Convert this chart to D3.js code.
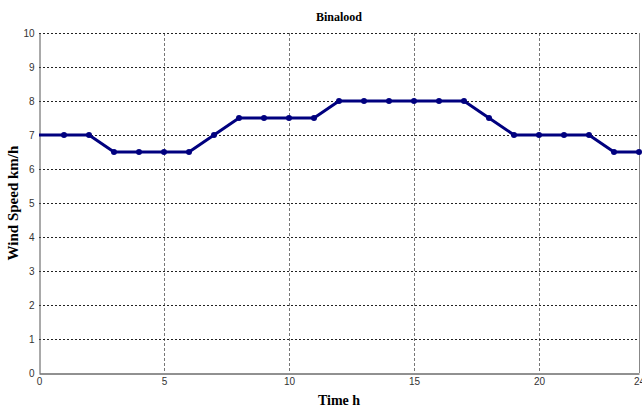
<!DOCTYPE html>
<html>
<head>
<meta charset="utf-8">
<script src="https://cdn.jsdelivr.net/npm/d3@7"></script>
<style>
body { margin: 0; background: white; }
</style>
</head>
<body>
<svg></svg>
<script>
var w = 642
var h = 410

// data
var hours = [0,1,2,3,4,5,6,7,8,9,10,11,12,13,14,15,16,17,18,19,20,21,22,23,24]
var speed = [7,7,7,6.5,6.5,6.5,6.5,7,7.5,7.5,7.5,7.5,8,8,8,8,8,8,7.5,7,7,7,7,6.5,6.5]
var xTicks = [0,5,10,15,20,24]
var yTicks = [0,1,2,3,4,5,6,7,8,9,10]

var plotLeft = 39, plotRight = 639, plotTop = 33, plotBottom = 373

var svg = d3.select("svg")
	.attr("width", w)
	.attr("height", h)

var x = d3.scaleLinear().domain([0,24]).range([plotLeft,plotRight])
var y = d3.scaleLinear().domain([0,10]).range([plotBottom,plotTop])

var data = hours.map(function(d,i){ return {h: d, v: speed[i]} })

// grid
svg.append("g").selectAll("line")
	.data(xTicks.filter(function(d){ return d > 0 && d < 24 }))
	.join("line")
	.attr("x1", function(d){ return x(d) + 0.5 })
	.attr("x2", function(d){ return x(d) + 0.5 })
	.attr("y1", plotTop)
	.attr("y2", plotBottom)
	.attr("stroke", "#777")
	.attr("stroke-width", 1)
	.attr("stroke-dasharray", "3,2")

svg.append("g").selectAll("line")
	.data(yTicks.filter(function(d){ return d > 0 }))
	.join("line")
	.attr("x1", plotLeft)
	.attr("x2", plotRight)
	.attr("y1", function(d){ return y(d) + 0.5 })
	.attr("y2", function(d){ return y(d) + 0.5 })
	.attr("stroke", "#222")
	.attr("stroke-width", 1)
	.attr("stroke-dasharray", "2,2")

// right border
svg.append("line")
	.attr("x1", plotRight + 0.5).attr("x2", plotRight + 0.5)
	.attr("y1", plotTop).attr("y2", plotBottom)
	.attr("stroke", "#888")

// axes
var xAxis = d3.axisBottom(x).tickValues(xTicks).tickSize(0).tickPadding(4)
var gx = svg.append("g")
	.attr("transform", "translate(0," + (plotBottom + 0.5) + ")")
	.call(xAxis)
gx.select(".domain").attr("stroke", "#222")
gx.selectAll("text")
	.attr("font-family", "Liberation Sans, Arial, sans-serif")
	.attr("font-size", 10)
	.attr("fill", "#333")

var yAxis = d3.axisLeft(y).tickValues(yTicks).tickSize(0).tickPadding(5)
var gy = svg.append("g")
	.attr("transform", "translate(" + (plotLeft + 0.5) + ",0)")
	.call(yAxis)
gy.select(".domain").attr("stroke", "#555")
gy.selectAll("text")
	.attr("font-family", "Liberation Sans, Arial, sans-serif")
	.attr("font-size", 10)
	.attr("fill", "#333")

// line
var line = d3.line()
	.x(function(d){ return x(d.h) })
	.y(function(d){ return y(d.v) })

svg.append("path")
	.datum(data)
	.attr("d", line)
	.attr("fill", "none")
	.attr("stroke", "#00007f")
	.attr("stroke-width", 3)
	.attr("stroke-linejoin", "round")

svg.append("g").selectAll("circle")
	.data(data.filter(function(d){ return d.h > 0 }))
	.join("circle")
	.attr("cx", function(d){ return x(d.h) })
	.attr("cy", function(d){ return y(d.v) })
	.attr("r", 3)
	.attr("fill", "#00007f")

// labels
svg.append("text")
	.attr("x", (plotLeft + plotRight) / 2)
	.attr("y", 21)
	.attr("text-anchor", "middle")
	.attr("font-family", "Liberation Serif, Times New Roman, serif")
	.attr("font-weight", "bold")
	.attr("font-size", 12)
	.text("Binalood")

svg.append("text")
	.attr("x", (plotLeft + plotRight) / 2)
	.attr("y", 405)
	.attr("text-anchor", "middle")
	.attr("font-family", "Liberation Serif, Times New Roman, serif")
	.attr("font-weight", "bold")
	.attr("font-size", 14)
	.text("Time h")

svg.append("text")
	.attr("transform", "translate(18," + ((plotTop + plotBottom) / 2) + ") rotate(-90)")
	.attr("text-anchor", "middle")
	.attr("font-family", "Liberation Serif, Times New Roman, serif")
	.attr("font-weight", "bold")
	.attr("font-size", 15)
	.text("Wind Speed km/h")
</script>
</body>
</html>
